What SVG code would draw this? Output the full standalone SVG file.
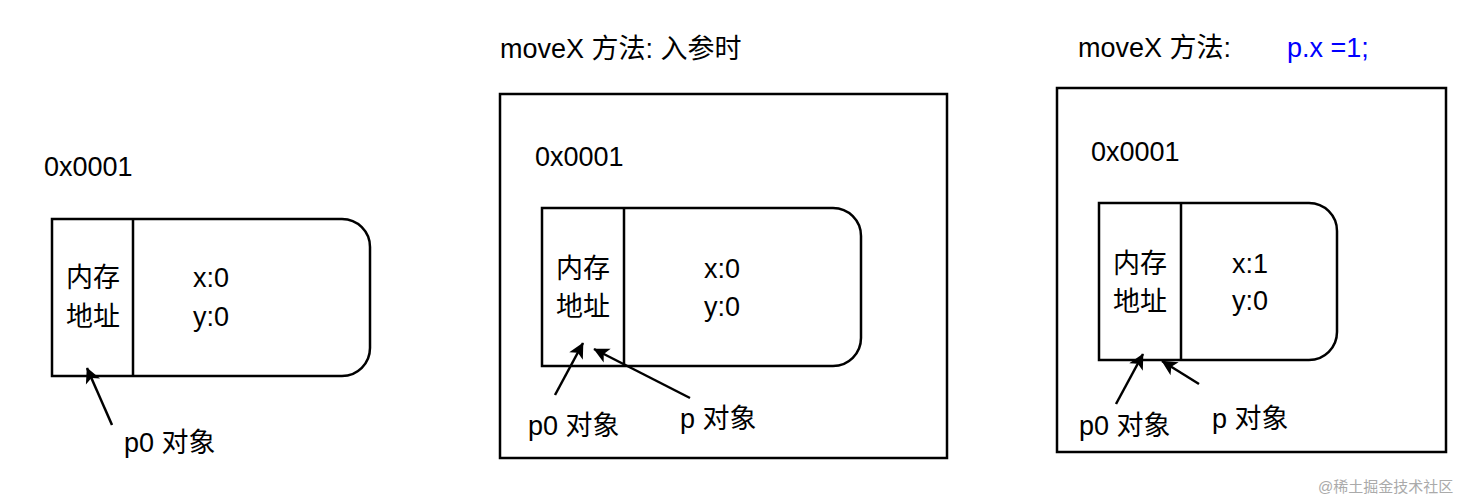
<svg xmlns="http://www.w3.org/2000/svg" width="1483" height="500" viewBox="0 0 1483 500">
<style>
text{font-family:"Liberation Sans","Noto Sans CJK SC",sans-serif;font-size:27px;fill:#000}
.s{fill:none;stroke:#000;stroke-width:2.5}
.c{text-anchor:middle}
.a{stroke:#000;stroke-width:2.5;fill:none;marker-end:url(#ah)}
</style>
<defs><marker id="ah" viewBox="0 0 10 10" refX="9" refY="5" markerWidth="7" markerHeight="7" markerUnits="userSpaceOnUse" orient="auto" style="overflow:visible"><path d="M0,0 L10,5 L0,10 L2.5,5 Z" transform="scale(2.2) translate(-5.5,-2.7)"/></marker></defs>
<rect width="1483" height="500" fill="#fff"/>
<g id="panel1">
<text x="44" y="176">0x0001</text>
<path class="s" d="M52,219 H342 A28,28 0 0 1 370,247 V348 A28,28 0 0 1 342,376 H52 Z M133,219 V376"/>
<text class="c" x="93" y="287">内存</text><text class="c" x="93" y="326">地址</text>
<text x="193" y="287">x:0</text><text x="193" y="326">y:0</text>
<text x="124" y="452">p0 对象</text>
</g>
<g id="panel2">
<text x="500" y="58">moveX 方法: 入参时</text>
<rect class="s" x="500" y="94" width="447" height="364"/>
<text x="535" y="166">0x0001</text>
<path class="s" d="M542,208 H833 A28,28 0 0 1 861,236 V338 A28,28 0 0 1 833,366 H542 Z M624,208 V366"/>
<text class="c" x="583" y="278">内存</text><text class="c" x="583" y="316">地址</text>
<text x="704" y="278">x:0</text><text x="704" y="316">y:0</text>
<text x="528" y="435">p0 对象</text>
<text x="680" y="428">p 对象</text>
</g>
<g id="panel3">
<text x="1078" y="57">moveX 方法:</text><text x="1287" y="57" style="fill:#0000ff">p.x =1;</text>
<rect class="s" x="1057" y="88" width="389" height="364"/>
<text x="1091" y="161">0x0001</text>
<path class="s" d="M1099,203 H1309 A28,28 0 0 1 1337,231 V332 A28,28 0 0 1 1309,360 H1099 Z M1181,203 V360"/>
<text class="c" x="1140" y="273">内存</text><text class="c" x="1140" y="311">地址</text>
<text x="1232" y="273">x:1</text><text x="1232" y="310">y:0</text>
<text x="1079" y="435">p0 对象</text>
<text x="1212" y="428">p 对象</text>
</g>
<g id="connectors">
<line class="a" x1="112" y1="425" x2="87" y2="368"/>
<line class="a" x1="555" y1="395" x2="583" y2="343"/>
<line class="a" x1="690" y1="398" x2="594" y2="349"/>
<line class="a" x1="1116" y1="404" x2="1143" y2="354"/>
<line class="a" x1="1199" y1="384" x2="1162" y2="361"/>
</g>
<text x="1318" y="492" style="font-size:15px;fill:#aaa">@稀土掘金技术社区</text>
</svg>
